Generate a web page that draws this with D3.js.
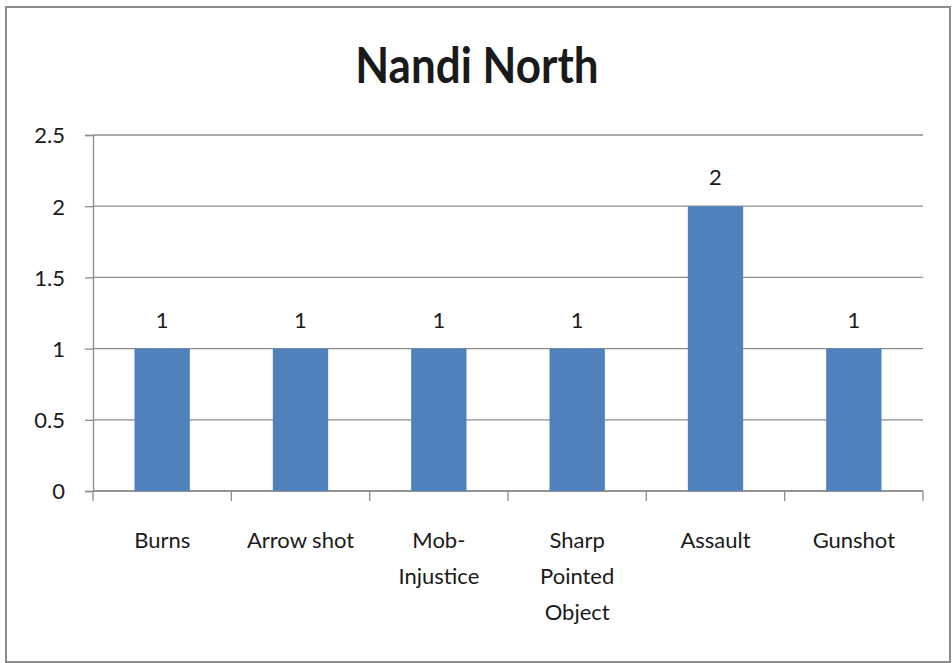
<!DOCTYPE html>
<html>
<head>
<meta charset="utf-8">
<script src="https://cdn.jsdelivr.net/npm/d3@7"></script>
<style>
  body { margin: 0; background: #fff; }
  text { font-family: Lato, "Open Sans", sans-serif; fill: #1a1a1a; }
</style>
</head>
<body>
<div id="chart"></div>
<script>
// chart data
var categories = ["Burns", "Arrow shot", "Mob-|Injustice", "Sharp|Pointed|Object", "Assault", "Gunshot"];
var values = [1, 1, 1, 1, 2, 1];
var yTicks = [0, 0.5, 1, 1.5, 2, 2.5];
var chartTitle = "Nandi North";

var W = 952, H = 663,
    margin = {top: 135, right: 29, bottom: 172, left: 93},
    width = W - margin.left - margin.right,
    height = H - margin.top - margin.bottom;

var svg = d3.select("#chart").append("svg").attr("width", W).attr("height", H);

svg.append("rect")
    .attr("x", 6).attr("y", 7).attr("width", 944).attr("height", 655)
    .attr("fill", "#fff").attr("stroke", "#8c8c8c").attr("stroke-width", 2);

svg.append("text")
    .attr("x", 477).attr("y", 83)
    .attr("text-anchor", "middle")
    .attr("font-weight", "bold")
    .attr("font-size", 44)
    .attr("transform", "translate(0,83) scale(1,1.15) translate(0,-83)")
    .text(chartTitle);

var g = svg.append("g").attr("transform", "translate(" + margin.left + "," + margin.top + ")");

var y = d3.scaleLinear().domain([0, 2.5]).range([height, 0]);
var x = d3.scaleBand().domain(categories).range([0, width]).paddingInner(0.6).paddingOuter(0.3);
var xEdge = d3.scaleLinear().domain([0, categories.length]).range([0, width]);

// gridlines
g.selectAll(".grid").data(yTicks).enter().append("line")
    .attr("x1", 0).attr("x2", width)
    .attr("y1", function(d) { return y(d); }).attr("y2", function(d) { return y(d); })
    .attr("stroke", "#8c8c8c").attr("stroke-width", 1.3);

// y axis
var yAxis = g.append("g")
    .call(d3.axisLeft(y).tickValues(yTicks).tickSize(8).tickPadding(20).tickFormat(function(d) { return d; }));
yAxis.select(".domain").attr("stroke", "#8c8c8c").attr("stroke-width", 1.3);
yAxis.selectAll(".tick line").attr("stroke", "#8c8c8c").attr("stroke-width", 1.3);
yAxis.selectAll(".tick text").attr("font-size", 22).attr("font-family", "Lato, sans-serif").attr("fill", "#1a1a1a")
    .attr("dy", "0.36em");

// x axis baseline + tick marks at category edges
g.append("line").attr("x1", 0).attr("x2", width).attr("y1", height).attr("y2", height)
    .attr("stroke", "#8c8c8c").attr("stroke-width", 1.3);
g.selectAll(".xtick").data(d3.range(categories.length + 1)).enter().append("line")
    .attr("x1", function(d) { return xEdge(d); }).attr("x2", function(d) { return xEdge(d); })
    .attr("y1", height).attr("y2", height + 10)
    .attr("stroke", "#8c8c8c").attr("stroke-width", 1.3);

// bars
g.selectAll(".bar").data(values).enter().append("rect")
    .attr("x", function(d, i) { return x(categories[i]); })
    .attr("width", x.bandwidth())
    .attr("y", function(d) { return y(d); })
    .attr("height", function(d) { return height - y(d); })
    .attr("fill", "#4f81bd");

// value labels
g.selectAll(".val").data(values).enter().append("text")
    .attr("x", function(d, i) { return x(categories[i]) + x.bandwidth() / 2; })
    .attr("y", function(d) { return y(d) - 21; })
    .attr("text-anchor", "middle")
    .attr("font-size", 22)
    .text(function(d) { return d; });

// category labels
var cl = g.selectAll(".cat").data(categories).enter().append("text")
    .attr("text-anchor", "middle")
    .attr("font-size", 22)
    .attr("transform", function(d) { return "translate(" + (x(d) + x.bandwidth() / 2) + "," + (height + 57) + ")"; });
cl.selectAll("tspan").data(function(d) { return d.split("|"); }).enter().append("tspan")
    .attr("x", 0).attr("y", function(d, i) { return i * 36; })
    .text(function(d) { return d; });
</script>
</body>
</html>
